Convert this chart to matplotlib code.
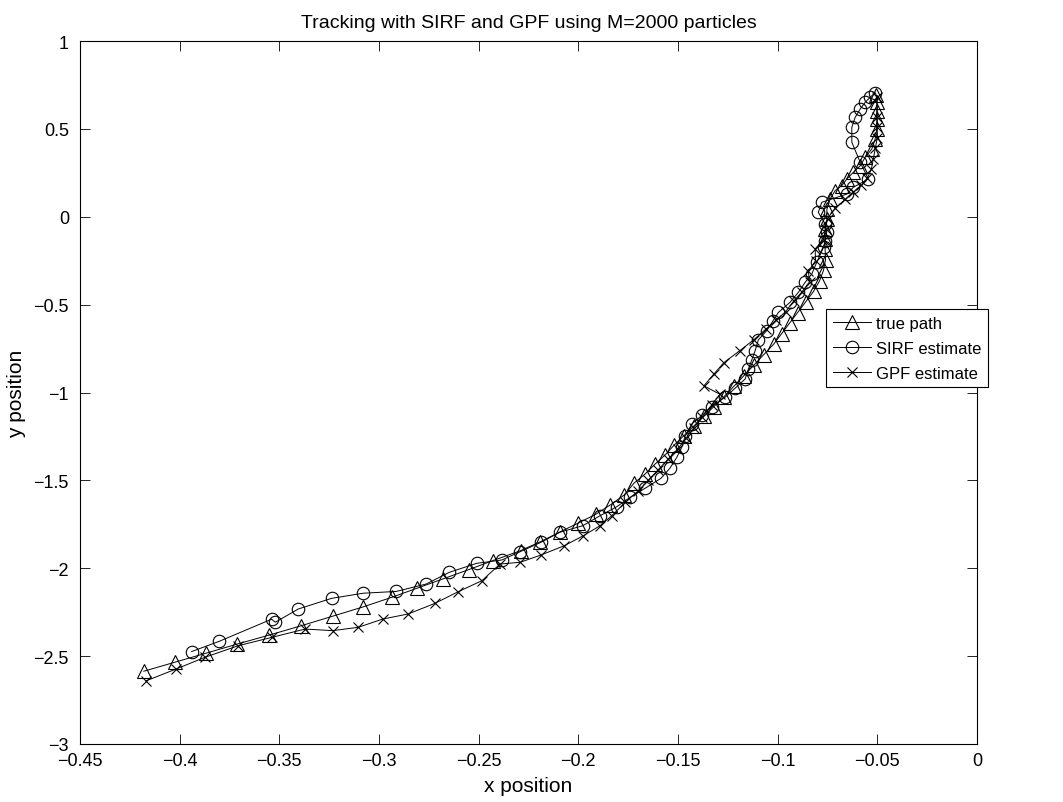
import matplotlib.pyplot as plt
from matplotlib.ticker import FuncFormatter, MultipleLocator

plt.rcParams["font.family"] = ["Liberation Sans", "DejaVu Sans"]

# true path (triangles)
true_x = [-0.418, -0.4025, -0.387, -0.371, -0.355, -0.339, -0.323, -0.308,
          -0.2935, -0.281, -0.268, -0.255, -0.243, -0.229, -0.219, -0.209,
          -0.200, -0.191, -0.184, -0.177, -0.172, -0.1665, -0.1615, -0.1565,
          -0.152, -0.147, -0.142, -0.137, -0.132, -0.127, -0.122, -0.117,
          -0.112, -0.107, -0.102, -0.098, -0.094, -0.090, -0.086, -0.082,
          -0.079, -0.077, -0.076, -0.0762, -0.0762, -0.0762, -0.0753, -0.0753,
          -0.0737, -0.0712, -0.0678, -0.0653, -0.062, -0.0586, -0.0561, -0.0528,
          -0.0511, -0.0503, -0.0503, -0.0503, -0.0503, -0.0505]
true_y = [-2.586, -2.535, -2.484, -2.431, -2.380, -2.327, -2.272, -2.220,
          -2.165, -2.114, -2.061, -2.008, -1.957, -1.900, -1.849, -1.792,
          -1.743, -1.691, -1.640, -1.583, -1.515, -1.464, -1.407, -1.356,
          -1.300, -1.245, -1.190, -1.135, -1.080, -1.025, -0.965, -0.905,
          -0.845, -0.785, -0.725, -0.665, -0.605, -0.545, -0.485, -0.425,
          -0.365, -0.305, -0.245, -0.185, -0.125, -0.070, -0.013, 0.044,
          0.101, 0.148, 0.177, 0.215, 0.253, 0.290, 0.338, 0.385,
          0.442, 0.499, 0.556, 0.603, 0.651, 0.690]

# SIRF estimate (circles)
sirf_x = [-0.394, -0.3802, -0.3539, -0.352, -0.3405, -0.3237, -0.3079, -0.2914,
          -0.2764, -0.2647, -0.251, -0.2384, -0.2292, -0.2187, -0.2092, -0.1978,
          -0.1891, -0.1807, -0.174, -0.1665, -0.1585, -0.154, -0.1506, -0.1481,
          -0.1464, -0.1431, -0.138, -0.133, -0.1264, -0.1214, -0.1163, -0.1147,
          -0.113, -0.1113, -0.1097, -0.1055, -0.1025, -0.0996, -0.0938, -0.0896,
          -0.0862, -0.0829, -0.0804, -0.077, -0.0762, -0.0754, -0.0762, -0.0796,
          -0.0779, -0.0653, -0.062, -0.0545, -0.0586, -0.0628, -0.0628, -0.0611,
          -0.0586, -0.0561, -0.0536, -0.0511]
sirf_y = [-2.474, -2.416, -2.290, -2.307, -2.232, -2.171, -2.142, -2.132,
          -2.090, -2.023, -1.972, -1.953, -1.906, -1.852, -1.795, -1.758,
          -1.701, -1.650, -1.596, -1.545, -1.488, -1.430, -1.369, -1.312,
          -1.246, -1.179, -1.130, -1.080, -1.027, -0.976, -0.923, -0.866,
          -0.815, -0.762, -0.701, -0.648, -0.595, -0.544, -0.487, -0.430,
          -0.373, -0.326, -0.259, -0.174, -0.136, -0.088, -0.041, 0.025,
          0.082, 0.129, 0.168, 0.215, 0.310, 0.424, 0.509, 0.566,
          0.613, 0.651, 0.680, 0.705]

# GPF estimate (crosses)
gpf_x = [-0.4167, -0.4017, -0.3874, -0.3707, -0.3537, -0.3371, -0.3232, -0.3104,
         -0.2981, -0.2853, -0.272, -0.2602, -0.2484, -0.2393, -0.2292, -0.2188,
         -0.2071, -0.1975, -0.1891, -0.1832, -0.1765, -0.170, -0.165, -0.160,
         -0.155, -0.150, -0.146, -0.142, -0.138, -0.133, -0.129, -0.137,
         -0.132, -0.127, -0.119, -0.112, -0.106, -0.101, -0.096, -0.092,
         -0.088, -0.084, -0.0846, -0.081, -0.0812, -0.077, -0.076, -0.075,
         -0.071, -0.066, -0.062, -0.058, -0.055, -0.053, -0.052, -0.051,
         -0.050, -0.050, -0.050, -0.050]
gpf_y = [-2.640, -2.573, -2.507, -2.441, -2.393, -2.346, -2.355, -2.336,
         -2.289, -2.260, -2.200, -2.133, -2.071, -1.976, -1.966, -1.925,
         -1.872, -1.815, -1.758, -1.701, -1.625, -1.560, -1.500, -1.440,
         -1.380, -1.320, -1.260, -1.200, -1.140, -1.070, -1.010, -0.962,
         -0.895, -0.830, -0.762, -0.700, -0.640, -0.590, -0.540, -0.480,
         -0.430, -0.370, -0.310, -0.250, -0.183, -0.130, -0.070, -0.010,
         0.050, 0.100, 0.140, 0.180, 0.220, 0.270, 0.330, 0.390,
         0.450, 0.510, 0.570, 0.680]


def tick_fmt(v, pos):
    s = f"{v:g}"
    if s == "-0":
        s = "0"
    return s.replace("-", "\u2212")


fig = plt.figure(figsize=(10.63, 8.03), dpi=100)
ax = fig.add_axes([80 / 1063, 1 - 745 / 803, 897 / 1063, 703 / 803])

ax.plot(true_x, true_y, color="black", lw=0.7, marker="^", ms=10,
        mfc="none", mec="black", mew=0.8, label="true path")
ax.plot(sirf_x, sirf_y, color="black", lw=0.7, marker="o", ms=9,
        mfc="none", mec="black", mew=0.8, label="SIRF estimate")
ax.plot(gpf_x, gpf_y, color="black", lw=0.7, marker="x", ms=7,
        mec="black", mew=0.8, label="GPF estimate")

ax.set_xlim(-0.45, 0)
ax.set_ylim(-3, 1)
ax.xaxis.set_major_locator(MultipleLocator(0.05))
ax.yaxis.set_major_locator(MultipleLocator(0.5))
ax.xaxis.set_major_formatter(FuncFormatter(tick_fmt))
ax.yaxis.set_major_formatter(FuncFormatter(tick_fmt))
ax.tick_params(direction="in", top=True, right=True, length=7, width=0.6,
               labelsize=13)
ax.tick_params(axis="x", pad=6)
ax.tick_params(axis="y", pad=8)
for sp in ax.spines.values():
    sp.set_linewidth(0.8)

ax.set_title("Tracking with SIRF and GPF using M=2000 particles",
             fontsize=14, pad=10)
ax.set_xlabel("x position", fontsize=15, labelpad=5)
ax.set_ylabel("y position", fontsize=15, labelpad=5)

leg = ax.legend(loc="upper left", bbox_to_anchor=(826 / 1063, 1 - 310 / 803),
                bbox_transform=fig.transFigure, fontsize=12, frameon=True,
                fancybox=False, framealpha=1, edgecolor="black",
                handlelength=2.3, handletextpad=0.3, borderpad=0.4,
                labelspacing=0.6, borderaxespad=0)
leg.get_frame().set_linewidth(0.8)

fig.savefig("out.png", dpi=100)
